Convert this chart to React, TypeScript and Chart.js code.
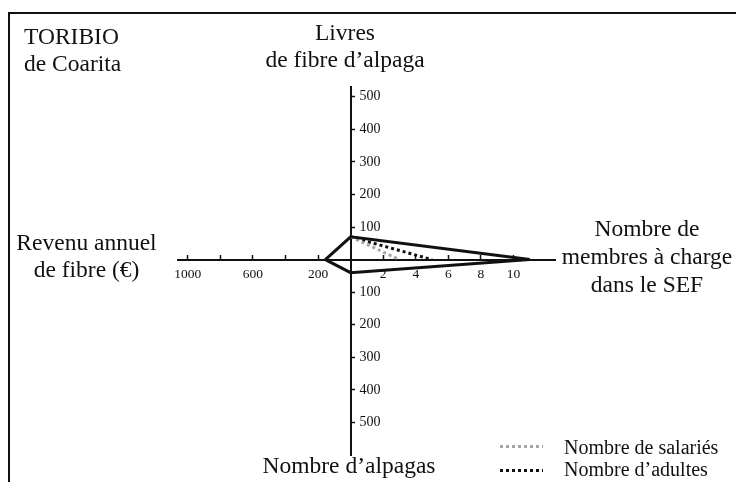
import React, { useEffect, useRef } from 'react';
import { Chart, registerables } from 'chart.js';

Chart.register(...registerables);

// ---- Data (TORIBIO de Coarita) ----
const LIVRES_FIBRE = 70;        // Livres de fibre d'alpaga (up)
const MEMBRES_CHARGE = 11;      // Nombre de membres à charge dans le SEF (right)
const NOMBRE_ALPAGAS = 40;      // Nombre d'alpagas (down)
const REVENU_FIBRE = 155;       // Revenu annuel de fibre en € (left)
const NOMBRE_SALARIES = 3;      // dotted grey
const NOMBRE_ADULTES = 5;       // dotted black

// ---- Tick values / labels ----
const MEMBRES_TICKS = [2, 4, 6, 8, 10];
const REVENU_TICKS = [200, 400, 600, 800, 1000];
const REVENU_TICK_LABELS = ['200', '', '600', '', '1000'];
const VERTICAL_TICKS = [100, 200, 300, 400, 500];
const EURO_PER_UNIT = 100; // left half of horizontal axis: 100 € per unit

const FONT = '"Liberation Serif", "Times New Roman", serif';

const yLabelPlugin = {
  id: 'yLabels',
  afterDraw(chart: any) {
    const { ctx, scales } = chart;
    const xs = scales.x;
    const ys = scales.y;
    const x0 = xs.getPixelForValue(0);
    ctx.save();
    ctx.font = `14px ${FONT}`;
    ctx.fillStyle = '#111';
    ctx.textAlign = 'left';
    ctx.textBaseline = 'middle';
    ys.ticks.forEach((t: any) => {
      if (t.value === 0) return;
      ctx.fillText(String(Math.abs(t.value)), x0 + 9, ys.getPixelForValue(t.value));
    });
    ctx.restore();
  },
};

export default function App() {
  const ref = useRef<HTMLCanvasElement | null>(null);

  useEffect(() => {
    if (!ref.current) return;
    const left = { x: -REVENU_FIBRE / EURO_PER_UNIT, y: 0 };
    const top = { x: 0, y: LIVRES_FIBRE };
    const right = { x: MEMBRES_CHARGE, y: 0 };
    const bottom = { x: 0, y: -NOMBRE_ALPAGAS };

    const xTickValues = [
      ...REVENU_TICKS.map((v) => -v / EURO_PER_UNIT),
      ...MEMBRES_TICKS,
    ];
    const yTickValues = [...VERTICAL_TICKS.map((v) => -v), ...VERTICAL_TICKS];

    const chart = new Chart(ref.current, {
      type: 'scatter',
      data: {
        datasets: [
          {
            label: 'TORIBIO',
            data: [left, top, right, bottom, left, top],
            showLine: true,
            borderColor: '#111',
            borderWidth: 3,
            pointRadius: 0,
            fill: false,
            tension: 0,
            borderJoinStyle: 'miter',
          },
          {
            label: 'Nombre de salariés',
            data: [top, { x: NOMBRE_SALARIES, y: 0 }],
            showLine: true,
            borderColor: '#a6a6a6',
            borderDash: [3, 3],
            borderWidth: 3,
            pointRadius: 0,
          },
          {
            label: "Nombre d'adultes",
            data: [top, { x: NOMBRE_ADULTES, y: 0 }],
            showLine: true,
            borderColor: '#111',
            borderDash: [3, 3],
            borderWidth: 3,
            pointRadius: 0,
          },
        ],
      },
      options: {
        animation: false,
        responsive: false,
        layout: { padding: { left: 178, right: 181, top: 87, bottom: 27 } },
        plugins: { legend: { display: false }, tooltip: { enabled: false } },
        scales: {
          x: {
            type: 'linear',
            min: -10.6,
            max: 12.55,
            position: { y: 0 } as any,
            afterBuildTicks: (s: any) => {
              s.ticks = xTickValues.map((v) => ({ value: v }));
            },
            grid: {
              drawOnChartArea: false,
              drawTicks: true,
              tickLength: -6,
              tickWidth: 1.5,
              tickColor: '#111',
            },
            border: { display: true, color: '#111', width: 2 },
            ticks: {
              autoSkip: false,
              maxRotation: 0,
              padding: 13,
              color: '#111',
              font: { family: FONT, size: 13.5 },
              callback: (value: any) => {
                const v = Number(value);
                if (v > 0) return String(v);
                if (v < 0) {
                  const i = REVENU_TICKS.indexOf(Math.round(-v * EURO_PER_UNIT));
                  return i >= 0 ? REVENU_TICK_LABELS[i] : '';
                }
                return '';
              },
            },
          },
          y: {
            type: 'linear',
            min: -600,
            max: 530,
            position: { x: 0 } as any,
            afterBuildTicks: (s: any) => {
              s.ticks = yTickValues.map((v) => ({ value: v }));
            },
            grid: {
              drawOnChartArea: false,
              drawTicks: true,
              tickLength: -5,
              tickWidth: 1.5,
              tickColor: '#111',
            },
            border: { display: true, color: '#111', width: 2 },
            ticks: { display: false },
          },
        },
      } as any,
      plugins: [yLabelPlugin],
    });
    return () => chart.destroy();
  }, []);

  const txt: React.CSSProperties = {
    position: 'absolute',
    fontFamily: FONT,
    fontSize: 23.5,
    lineHeight: '27px',
    color: '#111',
    whiteSpace: 'nowrap',
  };
  const legendTxt: React.CSSProperties = {
    position: 'absolute',
    fontFamily: FONT,
    fontSize: 20,
    lineHeight: '22px',
    color: '#111',
    whiteSpace: 'nowrap',
  };
  const dots = (color: string): string =>
    `repeating-linear-gradient(to right, ${color} 0px, ${color} 3px, transparent 3px, transparent 6px)`;

  return (
    <div
      style={{
        position: 'absolute',
        left: 0,
        top: 0,
        width: 736,
        height: 482,
        background: '#fff',
        overflow: 'hidden',
      }}
    >
      <canvas ref={ref} width={736} height={482} style={{ position: 'absolute', left: 0, top: 0, width: 736, height: 482 }} />
      <div
        style={{
          position: 'absolute',
          left: 8,
          top: 12,
          width: 740,
          height: 480,
          borderTop: '2px solid #111',
          borderLeft: '2px solid #111',
        }}
      />
      <div style={{ ...txt, left: 24, top: 23 }}>
        TORIBIO
        <br />
        de Coarita
      </div>
      <div style={{ ...txt, left: 245, width: 200, top: 19, textAlign: 'center' }}>
        Livres
        <br />
        de fibre d’alpaga
      </div>
      <div style={{ ...txt, left: 0, width: 173, top: 229, textAlign: 'center' }}>
        Revenu annuel
        <br />
        de fibre (€)
      </div>
      <div style={{ ...txt, left: 547, width: 200, top: 214, lineHeight: '28px', textAlign: 'center' }}>
        Nombre de
        <br />
        membres à charge
        <br />
        dans le SEF
      </div>
      <div style={{ ...txt, left: 249, width: 200, top: 452, textAlign: 'center' }}>Nombre d’alpagas</div>
      <div style={{ position: 'absolute', left: 500, top: 445, width: 43, height: 3, background: dots('#a6a6a6') }} />
      <div style={{ position: 'absolute', left: 500, top: 469, width: 43, height: 3, background: dots('#111') }} />
      <div style={{ ...legendTxt, left: 564, top: 435.5 }}>Nombre de salariés</div>
      <div style={{ ...legendTxt, left: 564, top: 457.5 }}>Nombre d’adultes</div>
    </div>
  );
}
